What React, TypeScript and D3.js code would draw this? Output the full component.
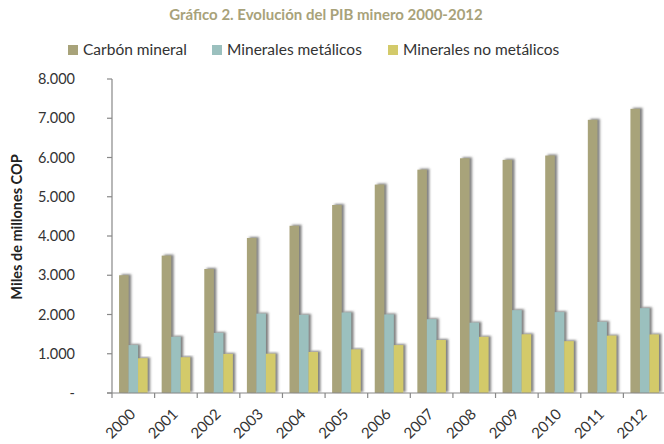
import React from "react";
import * as d3 from "d3";

const years = ["2000","2001","2002","2003","2004","2005","2006","2007","2008","2009","2010","2011","2012"];
const carbon = [3000, 3500, 3160, 3950, 4260, 4790, 5310, 5690, 5980, 5940, 6050, 6960, 7240];
const metalicos = [1220, 1430, 1530, 2020, 1990, 2050, 2000, 1880, 1790, 2110, 2060, 1810, 2160];
const noMetalicos = [885, 910, 995, 1000, 1045, 1110, 1220, 1350, 1430, 1495, 1320, 1460, 1490];
const seriesNames = ["Carbón mineral", "Minerales metálicos", "Minerales no metálicos"];
const seriesColors = ["#a8a37a", "#9bc0be", "#d3ca6a"];
const yTicks = [0, 1000, 2000, 3000, 4000, 5000, 6000, 7000, 8000];

export default function App() {
  const W = 664, H = 444;
  const left = 112, right = 666, top = 79, bottom = 393;
  const x = d3.scaleBand().domain(years).range([left, right]).paddingInner(0).paddingOuter(0);
  const inner = d3.scaleBand().domain(["0","1","2"]).range([0, x.bandwidth()]).paddingOuter(0.5 * (x.bandwidth() - 28.5) / (28.5 / 3)).paddingInner(0);
  const y = d3.scaleLinear().domain([0, 8000]).range([bottom, top]);
  const series = [carbon, metalicos, noMetalicos];
  const fmt = (v: number) => v === 0 ? "-" : d3.format(",")(v).replace(/,/g, ".");
  const font = "Lato, 'Open Sans', sans-serif";
  const legendX = [68, 212, 388];

  return (
    <svg width={W} height={H} style={{ position: "absolute", left: 0, top: 0 }} fontFamily={font}>
      <defs>
        <filter id="sh" x="-50%" y="-5%" width="200%" height="110%">
          <feDropShadow dx="2.5" dy="-1" stdDeviation="1.2" floodColor="#555" floodOpacity="0.75" />
        </filter>
      </defs>
      <rect width={W} height={H} fill="#fff" />
      <text x={326} y={20} textAnchor="middle" fontSize={15} fontWeight="bold" fill="#a8a27a">
        Gráfico 2. Evolución del PIB minero 2000-2012
      </text>
      {seriesNames.map((n, i) => (
        <g key={n}>
          <rect x={legendX[i]} y={45} width={10} height={10} fill={seriesColors[i]} />
          <text x={legendX[i] + 15} y={55} fontSize={15.5} fill="#333">{n}</text>
        </g>
      ))}
      {years.map((yr, i) => (
        <g key={yr}>
          {series.map((s, k) => (
            <rect key={k}
              x={(x(yr) as number) + (inner(String(k)) as number)}
              y={y(s[i])}
              width={inner.bandwidth()}
              height={bottom - y(s[i])}
              fill={seriesColors[k]}
              filter="url(#sh)" />
          ))}
        </g>
      ))}
      <line x1={left} x2={left} y1={top} y2={bottom} stroke="#888" strokeWidth={1.2} />
      {yTicks.map(t => (
        <g key={t}>
          <line x1={left - 5} x2={left} y1={y(t)} y2={y(t)} stroke="#888" strokeWidth={1.2} />
          <text x={75} y={y(t) + 5} textAnchor="end" fontSize={14.5} fill="#333">{fmt(t)}</text>
        </g>
      ))}
      <text transform={`translate(22, 227) rotate(-90)`} textAnchor="middle" fontSize={14.5} fontWeight="bold" fill="#222">
        Miles de millones COP
      </text>
      <line x1={left - 5} x2={right} y1={bottom} y2={bottom} stroke="#888" strokeWidth={1.2} />
      {years.map(yr => (
        <line key={yr} x1={x(yr) as number} x2={x(yr) as number} y1={bottom} y2={bottom + 5} stroke="#888" strokeWidth={1.2} />
      ))}
      {years.map(yr => {
        const cx = (x(yr) as number) + x.bandwidth() / 2 + 3;
        return (
          <text key={yr} transform={`translate(${cx}, ${415}) rotate(-45)`} textAnchor="end" fontSize={15} fill="#333">
            {yr}
          </text>
        );
      })}
    </svg>
  );
}
